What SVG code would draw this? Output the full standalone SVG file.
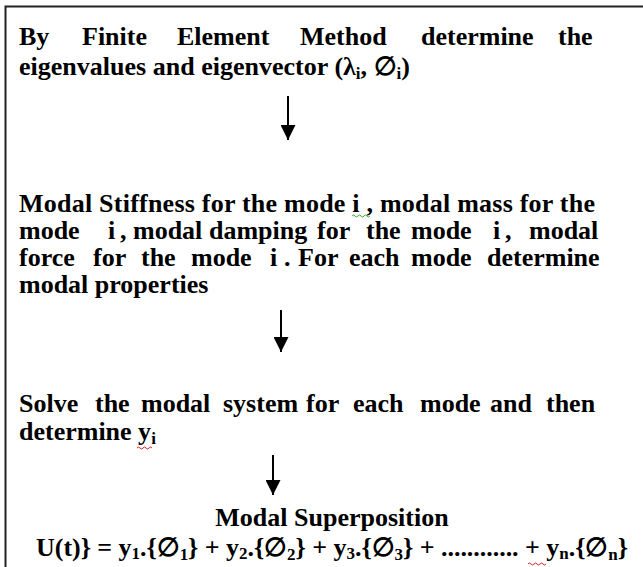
<svg xmlns="http://www.w3.org/2000/svg" width="643" height="567" viewBox="0 0 643 567">
<style>
.t{font-family:"Liberation Serif","Times New Roman",serif;font-weight:bold;font-size:26px;fill:#000}
.sub{font-size:17px}
.frame{fill:none;stroke:#222;stroke-width:2}
.arr{stroke:#000;stroke-width:2;fill:none}
.wg{fill:none;stroke:#3a3;stroke-width:1}
.wr{fill:none;stroke:#d22;stroke-width:1}
</style>
<defs>
<marker id="ah" viewBox="0 0 10 10" refX="10" refY="5" markerWidth="7.5" markerHeight="7.5" markerUnits="strokeWidth" orient="auto">
<path d="M0,0 L10,5 L0,10 Z" fill="#000"/>
</marker>
</defs>
<rect class="frame" x="5.5" y="6.5" width="650" height="580"/>
<g id="node-fem">
<text class="t" y="45"><tspan x="19">By</tspan><tspan x="82">Finite</tspan><tspan x="177">Element</tspan><tspan x="300">Method</tspan><tspan x="421">determine</tspan><tspan x="558">the</tspan></text>
<text class="t" x="19" y="75" textLength="391" lengthAdjust="spacing">eigenvalues and eigenvector (λ<tspan class="sub" dy="4">i</tspan><tspan dy="-4">, ∅</tspan><tspan class="sub" dy="4">i</tspan><tspan dy="-4">)</tspan></text>
</g>
<g id="node-modal-props">
<text class="t" x="19" y="212" textLength="576" lengthAdjust="spacing">Modal Stiffness for the mode i , modal mass for the</text>
<text class="t" y="239"><tspan x="19">mode</tspan><tspan x="108">i</tspan><tspan x="120">,</tspan><tspan x="133">modal</tspan><tspan x="209">damping</tspan><tspan x="317">for</tspan><tspan x="366">the</tspan><tspan x="411">mode</tspan><tspan x="493">i</tspan><tspan x="505">,</tspan><tspan x="529">modal</tspan></text>
<text class="t" y="266"><tspan x="19">force</tspan><tspan x="93">for</tspan><tspan x="141">the</tspan><tspan x="191">mode</tspan><tspan x="270">i</tspan><tspan x="284">.</tspan><tspan x="298">For</tspan><tspan x="349">each</tspan><tspan x="411">mode</tspan><tspan x="487">determine</tspan></text>
<text class="t" x="19" y="293">modal properties</text>
<path class="wg" d="M352,216 q1.5,-2 3,0 t3,0 t3,0 t3,0 t3,0 t3,0"/>
</g>
<g id="node-solve">
<text class="t" y="412"><tspan x="19">Solve</tspan><tspan x="95">the</tspan><tspan x="141">modal</tspan><tspan x="223">system</tspan><tspan x="306">for</tspan><tspan x="353">each</tspan><tspan x="420">mode</tspan><tspan x="490">and</tspan><tspan x="546">then</tspan></text>
<text class="t" x="19" y="440">determine y<tspan class="sub" dy="4">i</tspan></text>
<path class="wr" d="M137,448 q1.5,-2 3,0 t3,0 t3,0 t3,0 t3,0"/>
</g>
<g id="node-superposition">
<text class="t" x="332" y="526" text-anchor="middle">Modal Superposition</text>
<text class="t" x="36" y="556" textLength="592" lengthAdjust="spacing">U(t)} = y<tspan class="sub" dy="3">1</tspan><tspan dy="-3">.{∅</tspan><tspan class="sub" dy="4">1</tspan><tspan dy="-4">} + y</tspan><tspan class="sub" dy="3">2</tspan><tspan dy="-3">.{∅</tspan><tspan class="sub" dy="4">2</tspan><tspan dy="-4">} + y</tspan><tspan class="sub" dy="3">3</tspan><tspan dy="-3">.{∅</tspan><tspan class="sub" dy="4">3</tspan><tspan dy="-4">} + ............ + y</tspan><tspan class="sub" dy="3">n</tspan><tspan dy="-3">.{∅</tspan><tspan class="sub" dy="4">n</tspan><tspan dy="-4">}</tspan></text>
<path class="wr" d="M528,564 q1.5,-2 3,0 t3,0 t3,0 t3,0 t3,0 t3,0"/>
</g>
<g id="connectors">
<line class="arr" x1="288" y1="96" x2="288" y2="140" marker-end="url(#ah)"/>
<line class="arr" x1="281" y1="310" x2="281" y2="352" marker-end="url(#ah)"/>
<line class="arr" x1="273" y1="455" x2="273" y2="495" marker-end="url(#ah)"/>
</g>
</svg>
